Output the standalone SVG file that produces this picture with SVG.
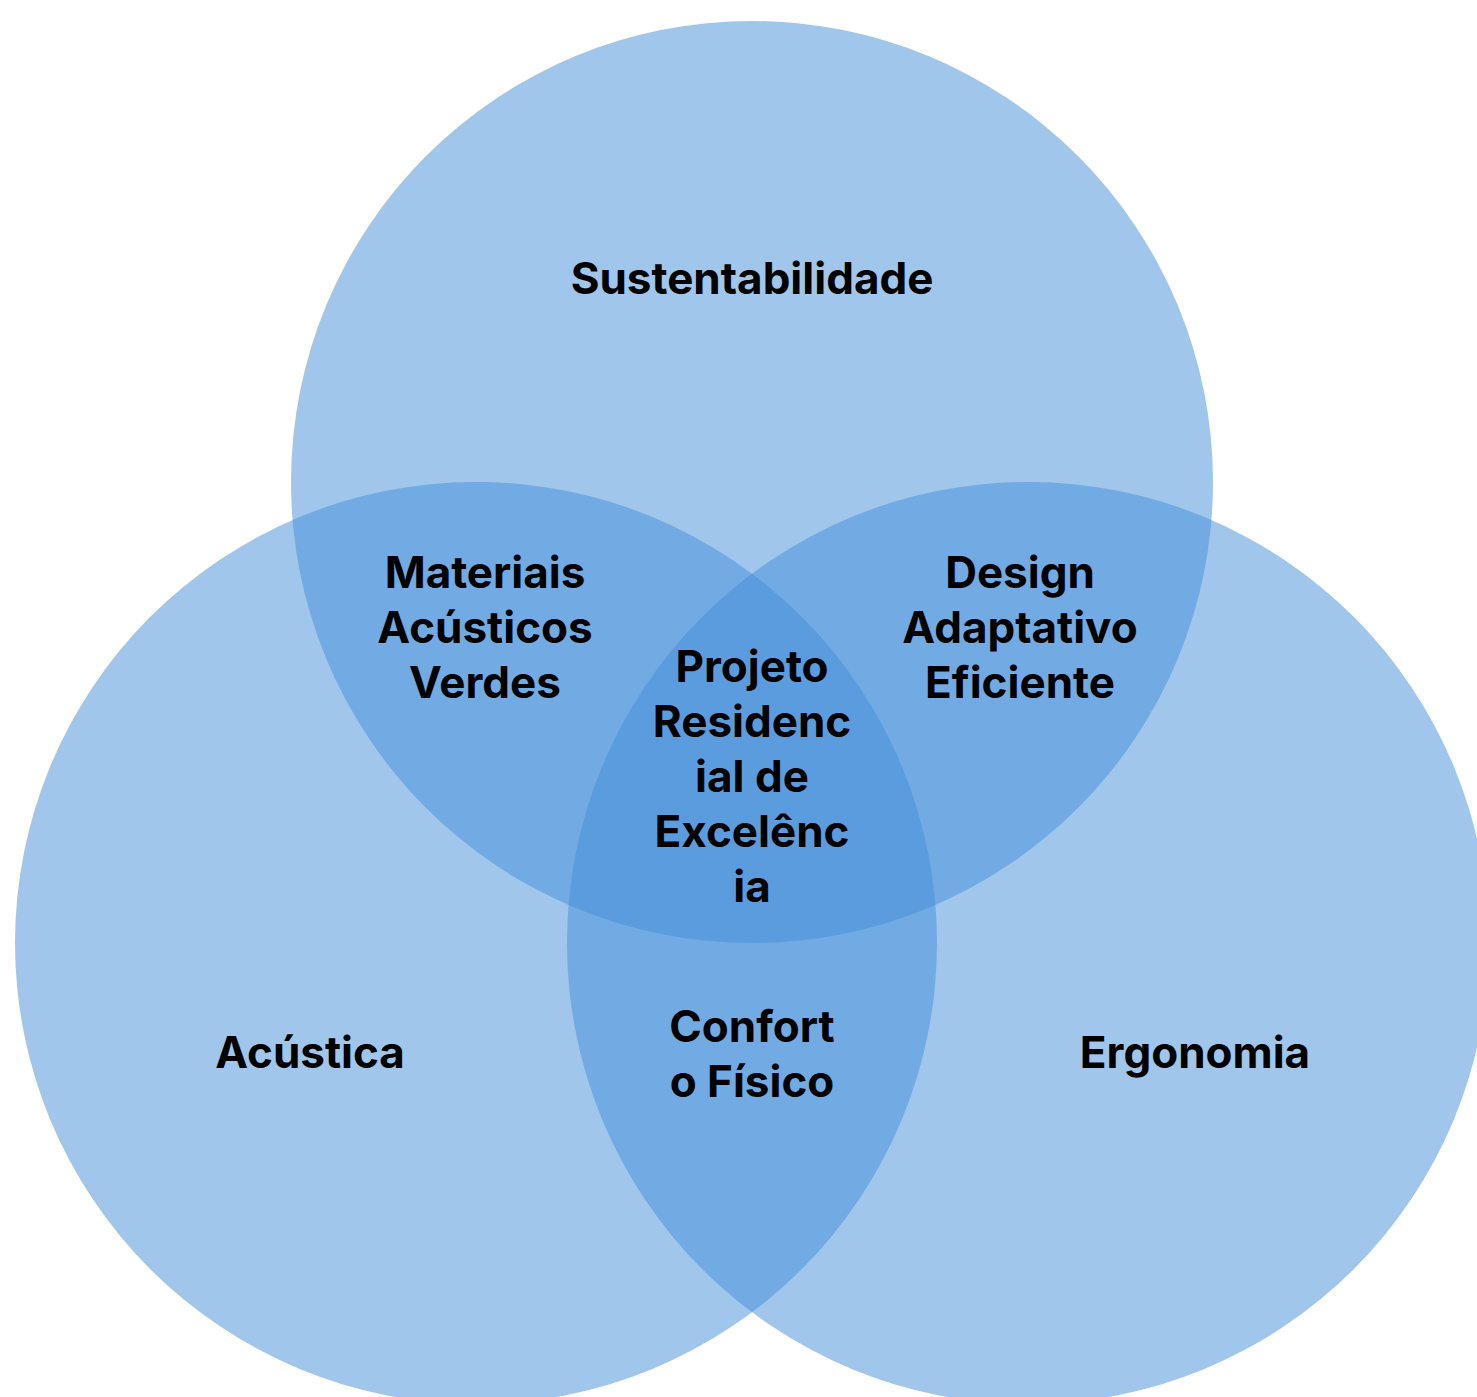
<svg xmlns="http://www.w3.org/2000/svg" width="1477" height="1397" viewBox="0 0 1477 1397">
<style>
.c{fill:#438DD9;fill-opacity:0.5}
.t{font-family:Inter,"Liberation Sans",sans-serif;font-weight:700;font-size:44px;fill:#000;text-anchor:middle}
</style>
<rect width="1477" height="1397" fill="#fff"/>
<g id="circle-sustentabilidade"><circle class="c" cx="752" cy="482" r="461"/></g>
<g id="circle-acustica"><circle class="c" cx="476" cy="943" r="461"/></g>
<g id="circle-ergonomia"><circle class="c" cx="1028" cy="943" r="461"/></g>
<g id="connectors"></g>
<g id="label-sustentabilidade"><text class="t" x="752" y="294">Sustentabilidade</text></g>
<g id="label-acustica"><text class="t" x="310" y="1068">Acústica</text></g>
<g id="label-ergonomia"><text class="t" x="1195" y="1068">Ergonomia</text></g>
<g id="label-materiais"><text class="t" x="485" y="588">Materiais</text><text class="t" x="485" y="643">Acústicos</text><text class="t" x="485" y="698">Verdes</text></g>
<g id="label-design"><text class="t" x="1020" y="588">Design</text><text class="t" x="1020" y="643">Adaptativo</text><text class="t" x="1020" y="698">Eficiente</text></g>
<g id="label-conforto"><text class="t" x="752" y="1042">Confort</text><text class="t" x="752" y="1097">o Físico</text></g>
<g id="label-centro"><text class="t" x="752" y="682">Projeto</text><text class="t" x="752" y="737">Residenc</text><text class="t" x="752" y="792">ial de</text><text class="t" x="752" y="847">Excelênc</text><text class="t" x="752" y="902">ia</text></g>
</svg>
